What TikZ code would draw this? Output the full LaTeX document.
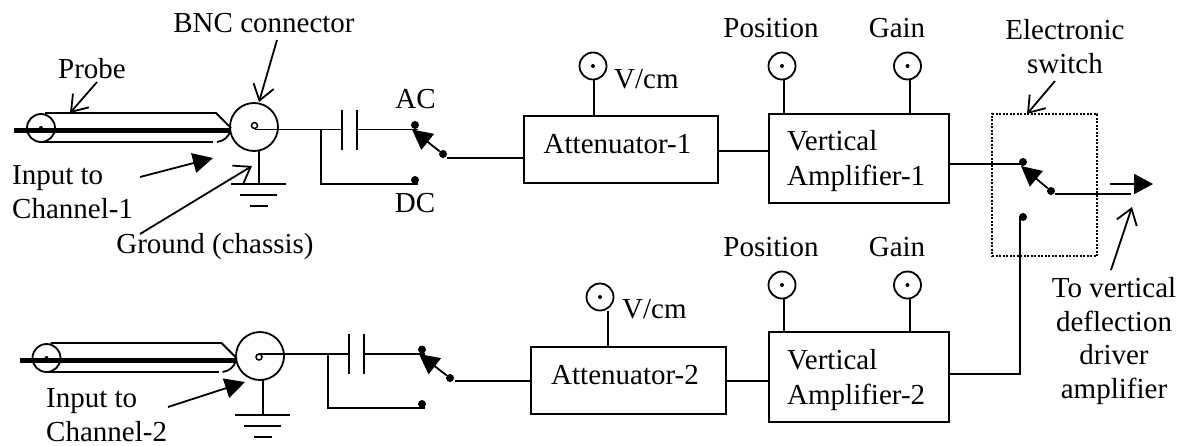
\documentclass[tikz,border=0pt]{standalone}
\usepackage{fontspec}
\setmainfont{Liberation Serif}
\usetikzlibrary{arrows.meta}
\tikzset{
  wire/.style={line width=1.8pt},
  lbl/.style={inner sep=0pt,anchor=base,align=center,font=\fontsize{29}{33.5}\selectfont},
  blk/.style={draw,line width=1.8pt,inner sep=0pt},
  knob/.style={draw,circle,line width=1.8pt,inner sep=0pt,minimum size=27pt},
  pin/.style={fill,circle,inner sep=0pt,minimum size=#1},
  pin/.default=8pt,
  callout/.style={wire,-{Straight Barb[length=15pt,width=21pt,line width=1.8pt]}},
  solidtip/.style={wire,-{Triangle[length=20pt,width=20pt]}}
}
\begin{document}
\begin{tikzpicture}[x=1pt,y=-1pt]
  \useasboundingbox (0,0) rectangle (1186,445);
  % probes
  \foreach \ch/\x/\y in {1/41/128,2/46.5/358}{
    \node[knob,minimum size=28pt] (probe\ch) at (\x,\y) {};
    \node[pin=4pt] (tipdot\ch) at (\x,\y) {};
    \draw[wire] (\x+4,\y-15) -- (\x+175,\y-15) -- (\x+190,\y);
    \draw[wire] (\x,\y+14) -- (\x+172,\y+14);
    \draw[wire] (\x+176,\y+14) .. controls (\x+183,\y+13) and (\x+187,\y+9) .. (\x+189,\y+4);
    \draw[line width=4.5pt] (\x-27,\y+2.5) -- (\x+189,\y+2.5);
  }
  % bnc connectors
  \foreach \ch/\x/\y/\cx/\cy in {1/254/127/254.5/125.5,2/260/356/259/357}{
    \node[knob,minimum size=48pt] (bnc\ch) at (\x,\y) {};
    \node[draw,circle,line width=1.5pt,inner sep=0pt,minimum size=6pt] (core\ch) at (\cx,\cy) {};
  }
  % capacitors, contacts, switches
  \foreach \ch/\cx/\cy/\by/\dy/\sx/\sy in {1/342/129.5/184/180/443/154,2/349/354/408/404/450/378}{
    \coordinate (capa\ch) at (\cx,\cy);
    \coordinate (capb\ch) at (\cx+15,\cy);
    \draw[wire] (\cx,\cy-20) -- (\cx,\cy+20);
    \draw[wire] (\cx+15,\cy-20) -- (\cx+15,\cy+20);
    \node[pin] (ac\ch) at (\cx+73,\cy-4.5) {};
    \node[pin] (dc\ch) at (\cx+73,\dy) {};
    \node[pin] (arm\ch) at (\sx,\sy) {};
    \coordinate (tee\ch) at (\cx-21,\cy);
    \coordinate (dcend\ch) at (\cx+76,\by);
    \coordinate (acend\ch) at (\cx+76,\cy);
    \coordinate (armtip\ch) at (\cx+70,\cy);
  }
  \foreach \ch in {1,2}{
    \draw[wire] (core\ch |- capa\ch) -- (capa\ch);
    \draw[wire] (capb\ch) -- (acend\ch);
    \draw[wire] (tee\ch) |- (dcend\ch);
    \draw[solidtip] (arm\ch) -- (armtip\ch);
  }
  % grounds
  \foreach \ch/\x/\y/\t in {1/259/184/151,2/263/415/380}{
    \coordinate (gnd\ch) at (\x,\y);
    \draw[wire] (\x,\t) -- (gnd\ch);
    \draw[wire] (\x-28,\y) -- (\x+27,\y);
    \draw[wire] (\x-19,\y+11) -- (\x+18,\y+11);
    \draw[wire] (\x-9,\y+22) -- (\x+9,\y+22);
  }
  % blocks
  \node[blk,minimum width=194pt,minimum height=67pt] (att1) at (621,149.5) {};
  \node[blk,minimum width=195pt,minimum height=67pt] (att2) at (628.5,380.5) {};
  \node[blk,minimum width=180pt,minimum height=89pt] (amp1) at (859,158.5) {};
  \node[blk,minimum width=180pt,minimum height=90pt] (amp2) at (859,377) {};
  \node[lbl] at (617.5,153) {Attenuator-1};
  \node[lbl] at (625,384) {Attenuator-2};
  \foreach \ch/\a/\b in {1/150/185,2/369/404}{
    \node[lbl,anchor=base west] at (787,\a) {Vertical};
    \node[lbl,anchor=base west] at (787,\b) {Amplifier-\ch};
  }
  % knobs
  \foreach \n/\x/\y/\s/\b in {va/593/66/594/att1,vb/600/297/608/att2,pa/782/66/784/amp1,ga/907.5/66/910/amp1,pb/782/285/784/amp2,gb/907.5/285/910/amp2}{
    \node[knob] (knob\n) at (\x,\y) {};
    \node[pin=4pt] (dot\n) at (\x,\y) {};
    \coordinate (stem\n) at (\s,\y+14);
    \draw[wire] (stem\n) -- (stem\n |- \b.north);
  }
  \node[lbl,anchor=base west] at (614,88) {V/cm};
  \node[lbl,anchor=base west] at (622,318) {V/cm};
  \foreach \y in {37,256}{
    \node[lbl] at (771,\y) {Position};
    \node[lbl] at (897,\y) {Gain};
  }
  % wires between blocks
  \coordinate (arma) at (447,158);
  \coordinate (armb) at (455,381);
  \draw[wire] (arma) -- (arma -| att1.west);
  \draw[wire] (armb) -- (armb -| att2.west);
  \draw[wire] (att1.east |- 0,151) -- (amp1.west |- 0,151);
  \draw[wire] (att2.east |- 0,381) -- (amp2.west |- 0,381);
  % electronic switch
  \node[draw,dash pattern=on 2pt off 1.5pt,line width=2pt,minimum width=105pt,minimum height=142pt,inner sep=0pt] (esw) at (1044.5,185) {};
  \node[pin] (swa) at (1023,162) {};
  \node[pin] (swb) at (1023,217) {};
  \node[pin] (swo) at (1051,191) {};
  \coordinate (swi) at (1023,164);
  \coordinate (swtip) at (1021,166);
  \coordinate (swdown) at (1020,374);
  \draw[wire] (amp1.east |- swi) -- (swi);
  \draw[wire] (amp2.east |- swdown) -- (swdown) -- (swdown |- swb);
  \draw[solidtip] (swo) -- (swtip);
  % output
  \coordinate (outa) at (1055,194);
  \coordinate (outb) at (1131,194);
  \coordinate (outc) at (1110,184);
  \coordinate (outd) at (1153,184);
  \draw[wire] (outa) -- (outb);
  \draw[wire,-{Triangle[length=19pt,width=20pt]}] (outc) -- (outd);
  % labels with pointers
  \node[lbl] (lprobe) at (92,78) {Probe};
  \node[lbl] (lbnc) at (264,32) {BNC connector};
  \node[lbl] (lac) at (415.5,108) {AC};
  \node[lbl] (ldc) at (415,212) {DC};
  \node[lbl,anchor=base west,align=left] (lin1) at (12,218) {Input to\\Channel-1};
  \node[lbl,anchor=base west,align=left] (lin2) at (46,441) {Input to\\Channel-2};
  \node[lbl] (lgnd) at (215,253) {Ground (chassis)};
  \node[lbl] (lsw) at (1065,73) {Electronic\\switch};
  \node[lbl] (lout) at (1114,398) {To vertical\\deflection\\driver\\amplifier};
  \draw[callout] (97,82) -- (70,113);
  \draw[callout] (277,40) -- (259,102);
  \draw[callout] (140,234) -- (252,166);
  \draw[callout] (1055,81) -- (1027,114);
  \draw[callout] (1111,270) -- (1132,207);
  \draw[solidtip] (140,177) -- (213,158);
  \draw[solidtip] (168,407) -- (245,382);
\end{tikzpicture}
\end{document}
